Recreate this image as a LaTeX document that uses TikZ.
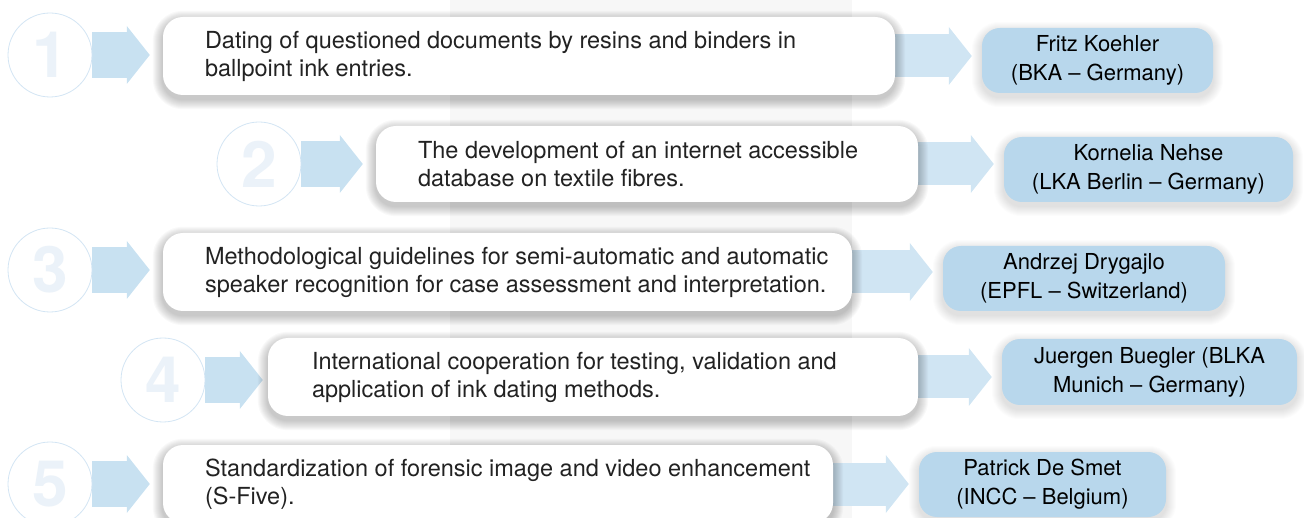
\documentclass[tikz,border=0pt]{standalone}
\usepackage{fontspec}
\setmainfont{TeX Gyre Heros}
\usetikzlibrary{positioning,arrows.meta,backgrounds}

\definecolor{bandgray}{HTML}{F7F7F7}
\definecolor{arrowblue}{HTML}{C8E1F1}
\definecolor{arrowpale}{HTML}{D0E5F3}
\definecolor{namefill}{HTML}{B8D7EC}
\definecolor{ringblue}{HTML}{D3E5F4}
\definecolor{digitblue}{HTML}{EBF2F9}
\definecolor{inktext}{HTML}{222222}

% soft shadow under a node: #1 node, #2 corner radius, #3 opacity per step
\newcommand{\softshadow}[3]{%
  \foreach \d in {1,...,10}
    \fill[black, opacity=#3, rounded corners={(#2+\d)*1pt}]
      ([shift={(-\d,4-\d)}]#1.north west) rectangle ([shift={(\d,4+\d)}]#1.south east);}

\tikzset{
  numcircle/.style={circle, draw=ringblue, line width=0.8pt, fill=white,
    minimum size=84pt, inner sep=0pt, text=digitblue,
    font=\fontsize{64}{64}\selectfont\bfseries},
  topicbox/.style={rounded corners=20pt, fill=white, minimum height=78pt},
  topictext/.style={inner sep=0pt, align=left, text=inktext,
    font=\fontsize{23.5}{28}\selectfont},
  leaderbox/.style={rounded corners=18pt, fill=namefill, minimum height=65pt,
    inner sep=0pt, align=center, text=black,
    font=\fontsize{22}{29}\selectfont},
  blockarrow/.style={line width=46pt, draw=arrowblue, shorten >=13pt,
    -{Triangle[width=58pt,length=23pt,line width=0pt]}},
  leadarrow/.style={blockarrow, draw=arrowpale, line width=43pt, shorten >=10pt},
}

\begin{document}
\begin{tikzpicture}[x=1pt,y=-1pt]
\useasboundingbox (0,0) rectangle (1304,518);

% numbered circles
\node[numcircle] (c1) at (50,55) {1};
\node[numcircle] (c2) at (259,164) {2};
\node[numcircle] (c3) at (50,270) {3};
\node[numcircle] (c4) at (163,380) {4};
\node[numcircle] (c5) at (50,484) {5};

% project boxes
\node[topicbox, minimum width=732pt] (b1) at (529,56) {};
\node[topictext, right=42pt of b1.west] (t1)
  {Dating of questioned documents by resins and binders in\\ballpoint ink entries.};
\node[topicbox, minimum width=542pt, minimum height=76pt] (b2) at (647,164) {};
\node[topictext, right=42pt of b2.west] (t2)
  {The development of an internet accessible\\database on textile fibres.};
\node[topicbox, minimum width=689pt] (b3) at (507.5,272) {};
\node[topictext, right=42pt of b3.west] (t3)
  {Methodological guidelines for semi-automatic and automatic\\speaker recognition for case assessment and interpretation.};
\node[topicbox, minimum width=650pt] (b4) at (593,377) {};
\node[topictext, right=44pt of b4.west] (t4)
  {International cooperation for testing, validation and\\application of ink dating methods.};
\node[topicbox, minimum width=670pt] (b5) at (498,484) {};
\node[topictext, right=42pt of b5.west] (t5)
  {Standardization of forensic image and video enhancement\\(S-Five).};

% project leaders
\node[leaderbox, minimum width=231pt] (n1) at (1097.5,60.5) {Fritz Koehler\\(BKA -- Germany)};
\node[leaderbox, minimum width=289pt] (n2) at (1148.5,169.5) {Kornelia Nehse\\(LKA Berlin -- Germany)};
\node[leaderbox, minimum width=282pt] (n3) at (1084,278.5) {Andrzej Drygajlo\\(EPFL -- Switzerland)};
\node[leaderbox, minimum width=295pt, minimum height=66pt] (n4) at (1149.5,372) {Juergen Buegler (BLKA\\Munich -- Germany)};
\node[leaderbox, minimum width=247pt] (n5) at (1042.5,484.5) {Patrick De Smet\\(INCC -- Belgium)};

\begin{pgfonlayer}{background}
% light band behind the middle
\fill[bandgray] (450,0) rectangle (852,518);
% arrows circle -> project
\draw[blockarrow] (c1.east) -- (c1.east -| b1.west);
\draw[blockarrow] (c2.east) -- (c2.east -| b2.west);
\draw[blockarrow] (c3.east) -- (c3.east -| b3.west);
\draw[blockarrow, shorten >=5pt] (c4.east) -- (c4.east -| b4.west);
\draw[blockarrow] (c5.east) -- (c5.east -| b5.west);
% arrows project -> leader
\draw[leadarrow] (b1.east) -- (b1.east -| n1.west);
\draw[leadarrow] (b2.east) -- (b2.east -| n2.west);
\draw[leadarrow] (b3.east) -- (b3.east -| n3.west);
\draw[leadarrow] (b4.east) -- (b4.east -| n4.west);
\draw[leadarrow] (b5.east) -- (b5.east -| n5.west);
% shadows
\foreach \b in {b1,b2,b3,b4,b5} {\softshadow{\b}{20}{0.022}}
\foreach \n in {n1,n2,n3,n4,n5} {\softshadow{\n}{18}{0.012}}
\end{pgfonlayer}
\end{tikzpicture}
\end{document}
